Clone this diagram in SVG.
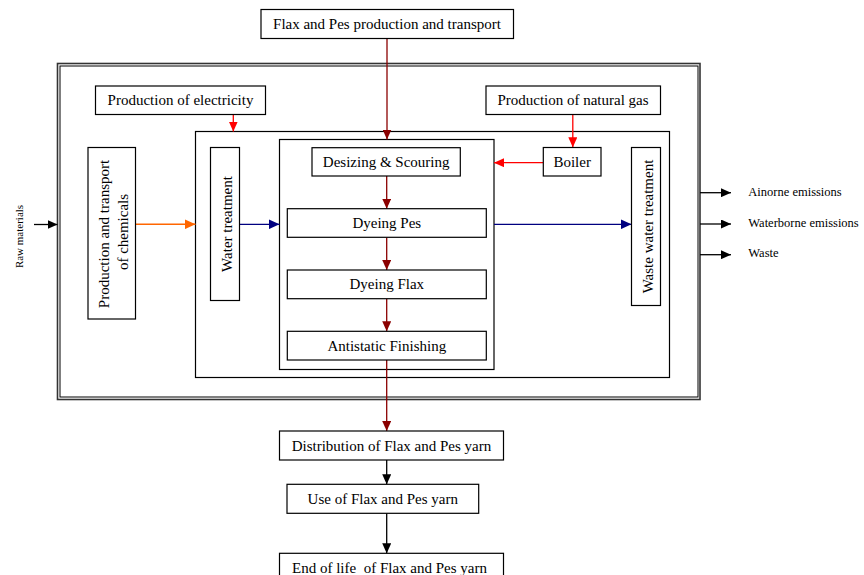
<svg xmlns="http://www.w3.org/2000/svg" width="864" height="575" viewBox="0 0 864 575">
<style>
  .box{fill:#fff;stroke:#000;stroke-width:1.2}
  .frame{fill:none;stroke:#000;stroke-width:1.2}
  text{font-family:"Liberation Serif","Times New Roman",serif;font-size:15px;fill:#000}
  .c{text-anchor:middle}
  .sm{font-size:12.5px}
  .rm{font-size:11px}
  .dr{stroke:#8B0000;stroke-width:1.3;fill:none}
  .rd{stroke:#FF0000;stroke-width:1.3;fill:none}
  .or{stroke:#FF6600;stroke-width:1.6;fill:none}
  .bl{stroke:#000080;stroke-width:1.3;fill:none}
  .bk{stroke:#000;stroke-width:1.3;fill:none}
</style>
<defs>
  <marker id="mdr" markerUnits="userSpaceOnUse" markerWidth="10" markerHeight="9" refX="10" refY="4.5" orient="auto"><path d="M0,0 L10,4.5 L0,9 z" fill="#8B0000"/></marker>
  <marker id="mrd" markerUnits="userSpaceOnUse" markerWidth="10" markerHeight="9" refX="10" refY="4.5" orient="auto"><path d="M0,0 L10,4.5 L0,9 z" fill="#FF0000"/></marker>
  <marker id="mor" markerUnits="userSpaceOnUse" markerWidth="11" markerHeight="10" refX="11" refY="5" orient="auto"><path d="M0,0 L11,5 L0,10 z" fill="#FF6600"/></marker>
  <marker id="mbl" markerUnits="userSpaceOnUse" markerWidth="11" markerHeight="10" refX="11" refY="5" orient="auto"><path d="M0,0 L11,5 L0,10 z" fill="#000080"/></marker>
  <marker id="mbk" markerUnits="userSpaceOnUse" markerWidth="10" markerHeight="9" refX="10" refY="4.5" orient="auto"><path d="M0,0 L10,4.5 L0,9 z" fill="#000"/></marker>
</defs>
<rect width="864" height="575" fill="#fff"/>

<g id="system-boundary">
  <rect x="57.5" y="63.5" width="642.5" height="336" fill="none" stroke="#333" stroke-width="1.6"/>
  <rect x="60" y="66" width="638" height="331" fill="none" stroke="#000" stroke-width="1"/>
</g>
<g id="plant-frame"><rect class="frame" x="195.5" y="131.5" width="474" height="246"/></g>
<g id="process-frame"><rect class="frame" x="279.5" y="139.5" width="214.5" height="230"/></g>

<g id="connectors">
  <line class="dr" x1="387" y1="38.5" x2="387" y2="139.5" marker-end="url(#mdr)"/>
  <line class="rd" x1="233.3" y1="114.5" x2="233.3" y2="131.5" marker-end="url(#mrd)"/>
  <line class="rd" x1="572.8" y1="114.5" x2="572.8" y2="147.3" marker-end="url(#mrd)"/>
  <line class="rd" x1="543" y1="162.7" x2="494" y2="162.7" marker-end="url(#mrd)"/>
  <line class="dr" x1="386.7" y1="176" x2="386.7" y2="208.7" marker-end="url(#mdr)"/>
  <line class="dr" x1="386.7" y1="237.5" x2="386.7" y2="270" marker-end="url(#mdr)"/>
  <line class="dr" x1="386.7" y1="299" x2="386.7" y2="331.3" marker-end="url(#mdr)"/>
  <line class="dr" x1="386.7" y1="360" x2="386.7" y2="431" marker-end="url(#mdr)"/>
  <line class="or" x1="135.5" y1="224.3" x2="195.5" y2="224.3" marker-end="url(#mor)"/>
  <line class="bl" x1="239.5" y1="224.3" x2="279.5" y2="224.3" marker-end="url(#mbl)"/>
  <line class="bl" x1="494" y1="224.3" x2="631.5" y2="224.3" marker-end="url(#mbl)"/>
  <line class="bk" x1="34" y1="224.5" x2="57.5" y2="224.5" marker-end="url(#mbk)"/>
  <line class="bk" x1="700" y1="192.7" x2="731" y2="192.7" marker-end="url(#mbk)"/>
  <line class="bk" x1="700" y1="224" x2="731" y2="224" marker-end="url(#mbk)"/>
  <line class="bk" x1="700" y1="254.7" x2="731" y2="254.7" marker-end="url(#mbk)"/>
  <line class="bk" x1="386.7" y1="460" x2="386.7" y2="484.3" marker-end="url(#mbk)"/>
  <line class="bk" x1="386.7" y1="513.3" x2="386.7" y2="553.3" marker-end="url(#mbk)"/>
</g>

<g id="flax-pes-production"><rect class="box" x="261" y="9.5" width="252.5" height="29"/><text class="c" x="387" y="29">Flax and Pes production and transport</text></g>
<g id="production-electricity"><rect class="box" x="95.5" y="86" width="170" height="28.5"/><text class="c" x="180.5" y="105">Production of electricity</text></g>
<g id="production-natural-gas"><rect class="box" x="486" y="86" width="174.5" height="28.5"/><text class="c" x="573" y="105">Production of natural gas</text></g>
<g id="chemicals"><rect class="box" x="88" y="147.5" width="47.5" height="171.5"/>
  <text class="c" transform="translate(109,234) rotate(-90)">Production and transport</text>
  <text class="c" transform="translate(127.5,232) rotate(-90)">of chemicals</text></g>
<g id="water-treatment"><rect class="box" x="210.5" y="147.5" width="29" height="153"/><text class="c" transform="translate(232,224) rotate(-90)">Water treatment</text></g>
<g id="waste-water-treatment"><rect class="box" x="631.5" y="147.5" width="29" height="158"/><text class="c" transform="translate(653,226.5) rotate(-90)">Waste water treatment</text></g>
<g id="boiler"><rect class="box" x="543.3" y="147.5" width="57.7" height="28.5"/><text class="c" x="572.2" y="166.7">Boiler</text></g>
<g id="desizing"><rect class="box" x="312" y="147.7" width="148.3" height="28.3"/><text class="c" x="386.2" y="166.8">Desizing &amp; Scouring</text></g>
<g id="dyeing-pes"><rect class="box" x="287.3" y="208.7" width="199" height="28.6"/><text class="c" x="386.8" y="228">Dyeing Pes</text></g>
<g id="dyeing-flax"><rect class="box" x="287.3" y="270" width="199" height="28.7"/><text class="c" x="386.8" y="289.3">Dyeing Flax</text></g>
<g id="antistatic"><rect class="box" x="287.3" y="331.3" width="199" height="28.7"/><text class="c" x="386.8" y="350.7">Antistatic Finishing</text></g>
<g id="distribution"><rect class="box" x="279.5" y="431" width="224" height="29"/><text class="c" x="391.5" y="450.5">Distribution of Flax and Pes yarn</text></g>
<g id="use"><rect class="box" x="287" y="484.3" width="191.7" height="29"/><text class="c" x="382.8" y="503.8">Use of Flax and Pes yarn</text></g>
<g id="end-of-life"><rect class="box" x="279.5" y="553.3" width="224" height="35"/><text class="c" x="389.5" y="572.8" xml:space="preserve">End of life  of Flax and Pes yarn</text></g>

<g id="raw-materials"><text class="c rm" transform="translate(23,236.5) rotate(-90)">Raw materials</text></g>
<g id="outputs">
  <text class="sm" x="748.3" y="196">Ainorne emissions</text>
  <text class="sm" x="748.3" y="226.5">Waterborne emissions</text>
  <text class="sm" x="748.3" y="257">Waste</text>
</g>
</svg>
